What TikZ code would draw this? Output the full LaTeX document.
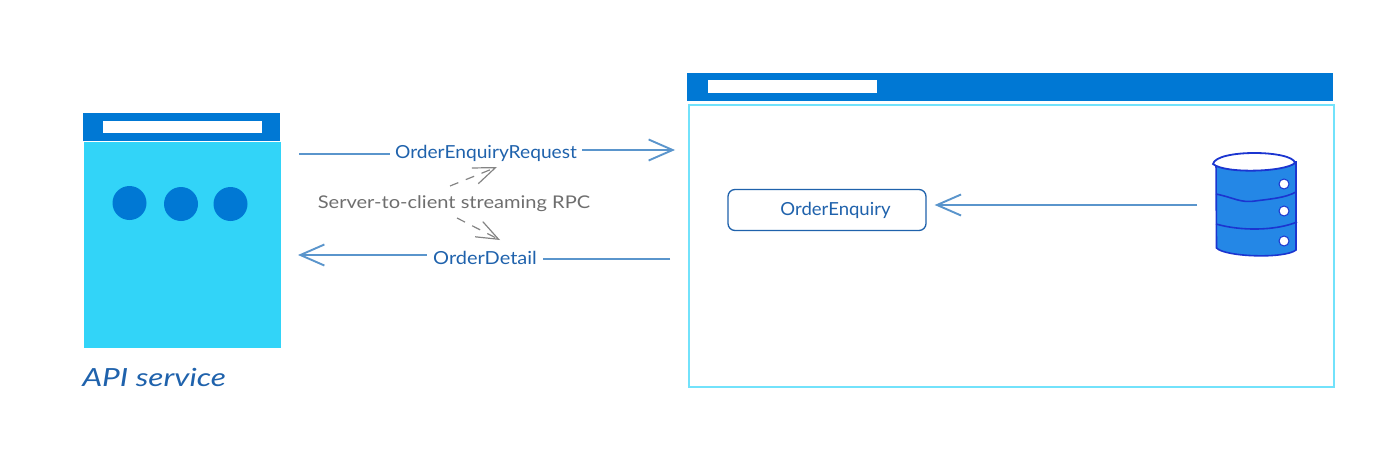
\documentclass[tikz,border=0pt]{standalone}
\usepackage{fontspec}
\setmainfont{Lato}
\usetikzlibrary{arrows.meta}
\definecolor{hdr}{HTML}{0078D4}
\definecolor{cyanfill}{HTML}{32D4F8}
\definecolor{cyanline}{HTML}{72E2FB}
\definecolor{inkblue}{HTML}{1F62AC}
\definecolor{arrowblue}{HTML}{5A95CC}
\definecolor{dbfill}{HTML}{2487E6}
\definecolor{dbline}{HTML}{1B35D0}
\definecolor{graytxt}{HTML}{6E6E6E}
\tikzset{
  x=1pt,y=-1pt,
  blockbox/.style={fill=#1,draw=none,inner sep=0pt,minimum width=0pt,anchor=north west},
  lbl/.style={font=\fontsize{#1}{#1}\selectfont,text=inkblue,inner sep=0pt},
  flow/.style={draw=arrowblue,line width=2.6pt},
  flowtip/.style={flow,-{Straight Barb[length=24pt,width=21pt,line width=1.9pt]}},
  hint/.style={draw=graytxt!85,line width=1.2pt,dash pattern=on 9pt off 8pt,-{Straight Barb[length=22pt,width=17pt,line width=1.2pt]}},
  dot/.style={circle,fill=hdr,draw=none,minimum size=34pt,inner sep=0pt},
  dbdot/.style={circle,fill=white,draw=dbline,line width=1pt,minimum size=10pt,inner sep=0pt},
}
\begin{document}
\begin{tikzpicture}
\useasboundingbox (0,0) rectangle (1394,474);
% API service window
\node[blockbox=hdr,minimum width=197pt,minimum height=28pt] (apihead) at (83,113) {};
\node[blockbox=white,minimum width=159pt,minimum height=12pt] (apibar) at (103,121) {};
\node[blockbox=cyanfill,minimum width=197pt,minimum height=206pt] (apibody) at (84,142) {};
\node[dot] (d1) at (129.5,203) {};
\node[dot] (d2) at (181,204) {};
\node[dot] (d3) at (230.5,204) {};
\node[lbl=25,anchor=west,xscale=1.265] (apiname) at (82,377) {\textit{API service}};
% Order window
\node[blockbox=hdr,minimum width=646pt,minimum height=28pt] (ordhead) at (687,73) {};
\node[blockbox=white,minimum width=169pt,minimum height=13pt] (ordbar) at (708,80) {};
\node[blockbox=white,draw=cyanline,line width=2pt,minimum width=645pt,minimum height=282pt] (ordbody) at (688,104) {};
% OrderEnquiry box
\node[draw=inkblue,line width=1.3pt,rounded corners=7pt,minimum width=198pt,minimum height=41pt,inner sep=0pt] (enq) at (827,210) {};
\node[lbl=18,xscale=1.03] (enqtxt) at (835.5,210) {OrderEnquiry};
% Database
\path[fill=dbfill,draw=dbline,line width=1.6pt]
  (1216,162) -- (1216.5,248) .. controls (1225,257) and (1285,259) .. (1296,250) -- (1296,162) -- cycle;
\draw[dbline,line width=1.6pt] (1216,194) .. controls (1235,198) and (1240,203) .. (1255,201) .. controls (1270,199) and (1285,198) .. (1296,192);
\draw[dbline,line width=1.6pt] (1216,224) .. controls (1240,231) and (1275,231) .. (1297,222);
\path[fill=white,draw=dbline,line width=1.8pt] (1213,164) .. controls (1216,149) and (1293,150) .. (1295,163) .. controls (1285,172) and (1225,174) .. (1213,164) -- cycle;
\node[dbdot] (db1) at (1284,184) {};
\node[dbdot] (db2) at (1284,211) {};
\node[dbdot] (db3) at (1284,241) {};
\coordinate (dbout) at (1197,205);
% Request arrow
\coordinate (reqstart) at (299,154);
\coordinate (reqend) at (675,150);
\node[lbl=18,xscale=1.065] (reqtxt) at (486,153) {OrderEnquiryRequest};
\draw[flow,shorten >=5pt] (reqstart) -- (reqtxt.west |- reqstart);
\draw[flowtip,shorten <=5pt] (reqtxt.east |- reqend) -- (reqend);
% Detail arrow
\coordinate (detstart) at (670,259);
\coordinate (detend) at (298,255);
\node[lbl=18,xscale=1.11] (dettxt) at (485,258) {OrderDetail};
\draw[flow,shorten >=6pt] (detstart) -- (dettxt.east |- detstart);
\draw[flowtip,shorten <=6pt] (dettxt.west |- detend) -- (detend);
% Enquiry arrow
\draw[flowtip,line width=1.9pt,shorten >=8pt] (dbout) -- (enq.east |- dbout);
% Streaming note
\node[font=\fontsize{17.5}{17.5}\selectfont,text=graytxt,inner sep=0pt,xscale=1.147] (rpc) at (454,203.5) {Server-to-client streaming RPC};
\coordinate (h1s) at (450,186);
\coordinate (h1e) at (497,167);
\coordinate (h2s) at (457,218);
\coordinate (h2e) at (500,240);
\draw[hint] (h1s) -- (h1e);
\draw[hint] (h2s) -- (h2e);
\end{tikzpicture}
\end{document}
